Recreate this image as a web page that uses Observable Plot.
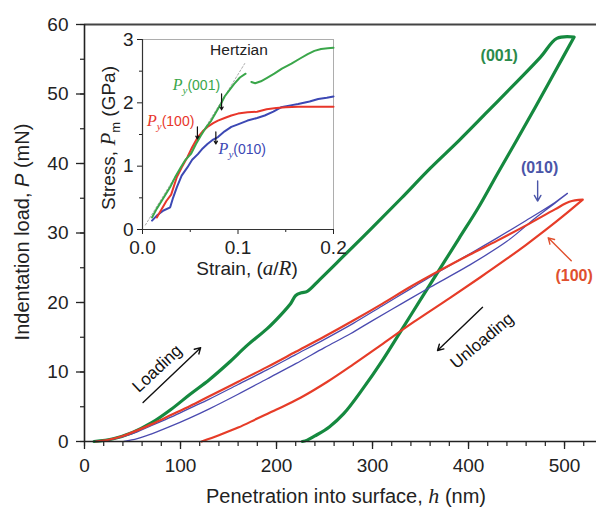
<!DOCTYPE html>
<html><head><meta charset="utf-8">
<script src="https://cdn.jsdelivr.net/npm/d3@7"></script>
<script src="https://cdn.jsdelivr.net/npm/@observablehq/plot@0.6"></script>
<style>
html,body{margin:0;padding:0;background:#fff;}
#wrap{position:relative;width:596px;height:509px;overflow:hidden;background:#fff;}
#inset{position:absolute;left:90px;top:20px;}
</style></head>
<body><div id="wrap"><div id="main"></div><div id="inset"></div></div>
<script>
const FONT = 'Arial, "Liberation Sans", Helvetica, sans-serif';
const SERIF = '"Liberation Serif", "Times New Roman", serif';

// ---- main chart: penetration h (nm) vs load P (mN) ----
const h001Load = [10,30,50,70,90,110,130,150,170,190,205,215,220,226,232,245,270,300,330,360,390,420,450,475,492,510];
const p001Load = [0,0.4,1.3,2.7,4.6,6.8,8.9,11.3,13.9,16.2,18.3,19.9,21.0,21.4,21.6,23.3,26.7,30.8,35.0,39.3,43.3,47.5,51.7,55.3,58.0,58.2];
const h001Unload = [510,490,470,450,430,410,390,370,350,330,310,290,270,255,240,232,227];
const p001Unload = [58.2,53.2,48.2,43.3,38.5,33.6,29.2,24.8,20.4,16.0,11.6,7.6,4.0,2.1,0.8,0.2,0];

const h100Load = [12,25,40,55,70,90,110,130,160,190,220,250,280,310,340,370,400,430,460,490,505,519];
const p100Load = [0,0.25,0.8,1.6,2.5,3.8,5.1,6.5,8.6,10.7,12.9,15.1,17.4,19.8,22.3,24.6,26.8,28.9,31.1,33.4,34.5,34.8];
const h100Unload = [519,500,480,460,440,412,380,343,308,280,253,225,200,180,160,140,122];
const p100Unload = [34.8,32.6,30.4,28.3,26.3,23.6,20.6,17.2,13.8,11.1,8.6,6.3,4.6,3.3,2.0,0.9,0];

const h010Load = [12,25,40,55,70,90,110,130,160,190,220,250,280,310,340,370,400,430,460,490,503];
const p010Load = [0,0.2,0.7,1.4,2.3,3.5,4.8,6.1,8.2,10.3,12.5,14.7,17.0,19.5,22.0,24.5,26.9,29.3,31.8,34.4,35.7];
const h010Unload = [503,490,470,440,400,360,330,300,277,250,220,190,160,130,110,90,70,55,41];
const p010Unload = [35.7,34.3,32.2,28.8,25.3,22.2,19.8,17.4,15.5,13.5,11.2,9.0,6.8,4.7,3.4,2.2,1.1,0.4,0];

const xMajor = [0,100,200,300,400,500];
const yMajor = [0,10,20,30,40,50,60];

// annotations (data coordinates)
const orientLabels = ["(001)","(010)","(100)"];
const orientH = [432,474,510];
const orientP = [55.5,39.4,23.9];
const orientColors = ["#2b8a4b","#4a55a8","#e0502e"];
const arrowsMain = [
  {h1:472,p1:37.5,h2:472,p2:34.6,c:"#4a55a8"},
  {h1:507,p1:26.0,h2:483,p2:29.3,c:"#e0502e"},
  {h1:61,p1:5.6,h2:121,p2:13.5,c:"#111"},
  {h1:414.6,p1:19.3,h2:367.7,p2:13.1,c:"#111"}
];
const dirLabels = [
  {t:"Loading",h:75.7,p:10.5,r:-43},
  {t:"Unloading",h:414,p:14.5,r:-40}
];

// ---- inset: strain (a/R) vs stress Pm (GPa) ----
const s001a = [0.010,0.015,0.020,0.029,0.035,0.040,0.045,0.051,0.056,0.061,0.066,0.072,0.077,0.082,0.086,0.091,0.096,0.102,0.108];
const m001a = [0.19,0.33,0.45,0.67,0.85,0.98,1.10,1.20,1.35,1.48,1.60,1.72,1.85,1.98,2.10,2.20,2.30,2.40,2.46];
const s001b = [0.114,0.118,0.124,0.130,0.138,0.146,0.156,0.165,0.173,0.180,0.187,0.194,0.200];
const m001b = [2.33,2.31,2.34,2.39,2.46,2.54,2.62,2.70,2.77,2.82,2.85,2.86,2.87];
const s100 = [0.015,0.020,0.025,0.030,0.036,0.041,0.047,0.052,0.058,0.063,0.068,0.074,0.079,0.086,0.093,0.100,0.110,0.120,0.130,0.140,0.150,0.163,0.175,0.190,0.200];
const m100 = [0.19,0.32,0.45,0.55,0.83,0.98,1.14,1.30,1.46,1.55,1.62,1.68,1.72,1.76,1.80,1.83,1.85,1.86,1.90,1.92,1.93,1.94,1.94,1.94,1.94];
const s010 = [0.010,0.015,0.022,0.029,0.032,0.036,0.041,0.047,0.052,0.058,0.063,0.068,0.074,0.079,0.086,0.093,0.100,0.110,0.120,0.128,0.137,0.145,0.155,0.163,0.175,0.184,0.193,0.200];
const m010 = [0.14,0.22,0.30,0.35,0.50,0.67,0.85,0.98,1.10,1.19,1.28,1.35,1.42,1.46,1.55,1.62,1.66,1.72,1.76,1.80,1.86,1.93,1.96,1.98,2.02,2.06,2.08,2.10];
const sHertz = [0.003,0.107];
const mHertz = [0.07,2.62];
const insetXTicks = [0,0.1,0.2];
const insetYTicks = [0,1,2,3];
const pyMarks = [
  {s:0.0828,m1:2.14,m2:1.89},
  {s:0.0575,m1:1.62,m2:1.43},
  {s:0.0768,m1:1.54,m2:1.35}
];
const pyLabels = [
  {s:0.057,m:2.27,t:"(001)",c:"#3aa64a"},
  {s:0.030,m:1.71,t:"(100)",c:"#e8362a"},
  {s:0.105,m:1.27,t:"(010)",c:"#3c48b4"}
];

const zip = (xs, ys) => xs.map((x,i)=>({x, y:ys[i]}));
const green = [...zip(h001Load,p001Load), ...zip(h001Unload,p001Unload)];
const red = [...zip(h100Load,p100Load), ...zip(h100Unload,p100Unload)];
const blue = [...zip(h010Load,p010Load), ...zip(h010Unload,p010Unload)];

const main = Plot.plot({
  width:596, height:509,
  marginLeft:84, marginRight:0, marginTop:24, marginBottom:68,
  x:{domain:[0,533.3]}, y:{domain:[0,60]},
  style:{fontFamily:FONT, color:"#222", background:"transparent", overflow:"visible"},
  marks:[
    Plot.axisX({ticks:d3.range(0,540,20), tickSize:5, tickFormat:()=>"", label:null, strokeWidth:1.2}),
    Plot.axisX({ticks:xMajor, tickSize:8, tickPadding:9, fontSize:19, label:null, strokeWidth:1.3}),
    Plot.axisY({ticks:d3.range(0,61,5), tickSize:4, tickFormat:()=>"", label:null, strokeWidth:1.2}),
    Plot.axisY({ticks:yMajor, tickSize:8, tickPadding:8, fontSize:19, label:null, strokeWidth:1.3}),
    Plot.ruleY([60], {stroke:"#444", strokeWidth:2}),
    Plot.line(green, {x:"x", y:"y", stroke:"#15893f", strokeWidth:3.2, curve:"catmull-rom", strokeLinejoin:"round"}),
    Plot.line(blue, {x:"x", y:"y", stroke:"#4b4bb0", strokeWidth:1.3, curve:"catmull-rom", strokeLinejoin:"round"}),
    Plot.line(red, {x:"x", y:"y", stroke:"#e63c28", strokeWidth:2.2, curve:"catmull-rom", strokeLinejoin:"round"}),
    Plot.ruleY([0], {stroke:"#222", strokeWidth:1.6}),
    Plot.ruleX([0], {stroke:"#222", strokeWidth:1.6}),
    Plot.text(orientLabels, {x:(d,i)=>orientH[i], y:(d,i)=>orientP[i], text:d=>d, fill:(d,i)=>orientColors[i], fontSize:16, fontWeight:"bold"}),
    Plot.arrow(arrowsMain, {x1:"h1", y1:"p1", x2:"h2", y2:"p2", stroke:d=>d.c, strokeWidth:1.4, headLength:7}),
    Plot.text(dirLabels, {x:"h", y:"p", text:"t", rotate:"r", fontSize:17, fill:"#111"})
  ]
});
document.getElementById("main").appendChild(main);

function richText(svg, x, y, parts, {size=16, anchor="middle", rotate=0, fill="#222"}={}) {
  const t = d3.select(svg).append("text").attr("x",x).attr("y",y).attr("text-anchor",anchor)
    .attr("font-family",FONT).attr("font-size",size).attr("fill",fill);
  if (rotate) t.attr("transform",`rotate(${rotate},${x},${y})`);
  for (const p of parts) {
    const s = t.append("tspan").text(p.t);
    if (p.italic) s.attr("font-style","italic");
    if (p.serif) s.attr("font-family",SERIF);
    if (p.size) s.attr("font-size",p.size);
    if (p.dy) s.attr("dy",p.dy);
  }
  return t;
}
// main axis titles
richText(main, 346, 503, [{t:"Penetration into surface, "},{t:"h",italic:true,serif:true,size:22},{t:" (nm)"}], {size:20});
richText(main, 29, 232, [{t:"Indentation load, "},{t:"P",italic:true},{t:" (mN)"}], {size:20, rotate:-90});

// ---- inset ----
const inset = Plot.plot({
  width:260, height:265,
  marginLeft:52, marginRight:17, marginTop:19, marginBottom:56,
  x:{domain:[0,0.2]}, y:{domain:[0,3]},
  style:{fontFamily:FONT, color:"#222", background:"transparent", overflow:"visible"},
  marks:[
    Plot.frame({stroke:"#999", strokeWidth:0.8}),
    Plot.axisX({ticks:[0.05,0.15], tickSize:3, tickFormat:()=>"", label:null}),
    Plot.axisX({ticks:insetXTicks, tickSize:5, tickPadding:6, tickFormat:d3.format(".1f"), fontSize:19, label:null}),
    Plot.axisY({ticks:[0.5,1.5,2.5], tickSize:3, tickFormat:()=>"", label:null}),
    Plot.axisY({ticks:insetYTicks, tickSize:5, tickPadding:4, tickFormat:d3.format("d"), fontSize:19, label:null}),
    Plot.ruleX([0], {stroke:"#333", strokeWidth:1.2}),
    Plot.ruleY([0], {stroke:"#333", strokeWidth:1.2}),
    Plot.line(zip(sHertz,mHertz), {x:"x", y:"y", stroke:"#aaa", strokeWidth:1, strokeDasharray:"2,2"}),
    Plot.line(zip(s010,m010), {x:"x", y:"y", stroke:"#3c48b4", strokeWidth:2}),
    Plot.line(zip(s100,m100), {x:"x", y:"y", stroke:"#e8362a", strokeWidth:2}),
    Plot.line(zip(s001a,m001a), {x:"x", y:"y", stroke:"#3aa64a", strokeWidth:2}),
    Plot.line(zip(s001b,m001b), {x:"x", y:"y", stroke:"#3aa64a", strokeWidth:2}),
    Plot.arrow(pyMarks, {x1:"s", y1:"m1", x2:"s", y2:"m2", stroke:"#111", strokeWidth:1.2, headLength:4}),
    Plot.text(["Hertzian"], {x:0.101, y:2.84, text:d=>d, fontSize:15.5, fill:"#222"})
  ]
});
document.getElementById("inset").appendChild(inset);
const ix = inset.scale("x"), iy = inset.scale("y");
for (const L of pyLabels) {
  richText(inset, ix.apply(L.s), iy.apply(L.m)+5, [
    {t:"P",italic:true,serif:true,size:16},
    {t:"y",italic:true,serif:true,size:11,dy:4},
    {t:L.t,size:14,dy:-4}
  ], {size:14, fill:L.c});
}
richText(inset, 157, 255, [{t:"Strain, ("},{t:"a",italic:true,serif:true,size:21},{t:"/"},{t:"R",italic:true,serif:true,size:21},{t:")"}], {size:19});
richText(inset, 25, 118, [{t:"Stress, "},{t:"P",italic:true,serif:true,size:21},{t:"m",size:13,dy:5},{t:" (GPa)",dy:-5}], {size:19, rotate:-90});
</script></body></html>
